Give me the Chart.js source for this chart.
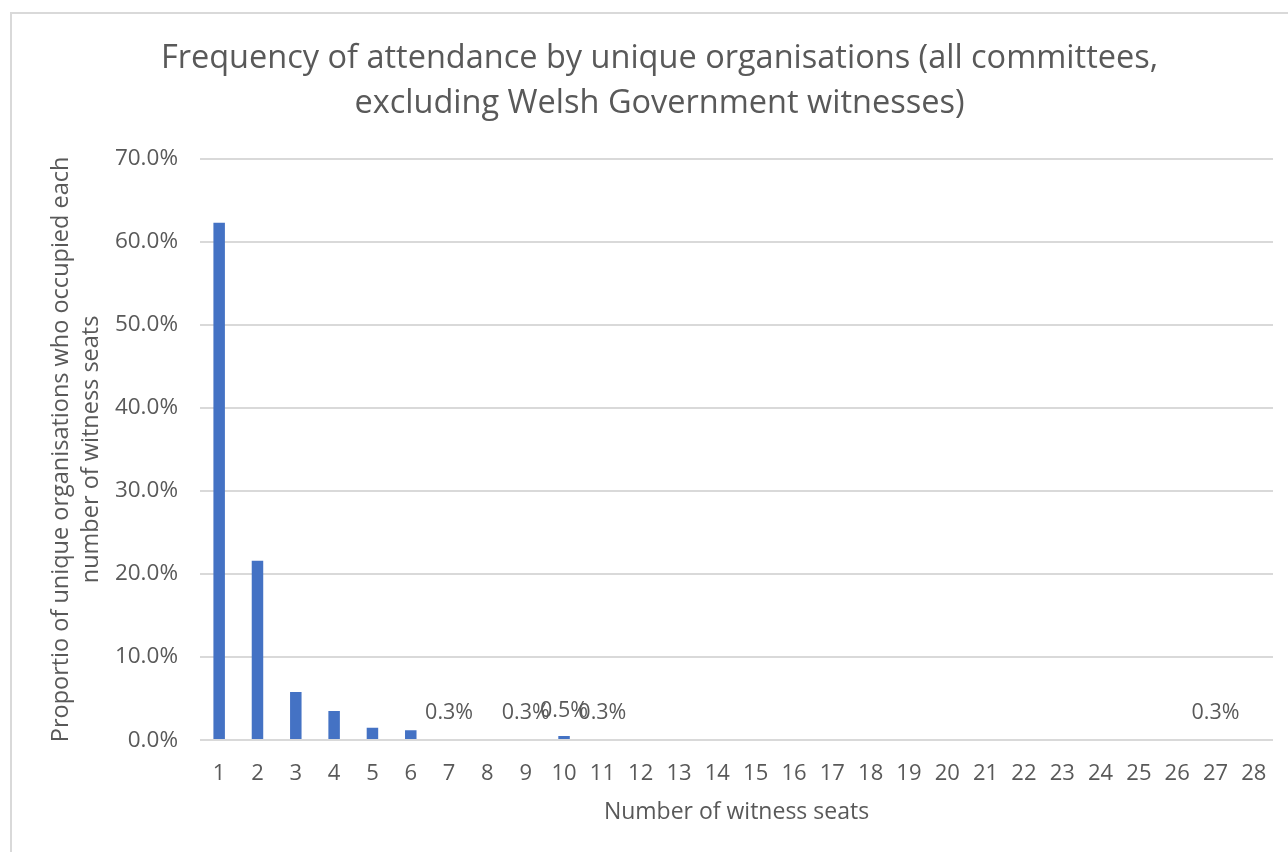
<!DOCTYPE html>
<html>
<head>
<meta charset="utf-8">
<script src="https://cdn.jsdelivr.net/npm/chart.js@4/dist/chart.umd.min.js"></script>
<style>
  html, body { margin: 0; padding: 0; background: #fff; }
  #frame { position: absolute; left: 10px; top: 12px; width: 1290px; height: 850px; border: 2px solid #d9d9d9; box-sizing: border-box; }
  #wrap { position: absolute; left: 0; top: 0; width: 1288px; height: 852px; }
</style>
</head>
<body>
<div id="frame"></div>
<div id="wrap"><canvas id="c" width="1288" height="852"></canvas></div>
<script>
const categories = ['1','2','3','4','5','6','7','8','9','10','11','12','13','14','15','16','17','18','19','20','21','22','23','24','25','26','27','28'];
const seriesValues = [62.3, 21.6, 5.8, 3.5, 1.5, 1.2, 0, 0, 0, 0.5, 0, 0, 0, 0, 0, 0, 0, 0, 0, 0, 0, 0, 0, 0, 0, 0, 0, 0];
const labelValues = [null, null, null, null, null, null, 0.3, null, 0.3, 0.5, 0.3, null, null, null, null, null, null, null, null, null, null, null, null, null, null, null, 0.3, null];
const yTicks = [0, 10, 20, 30, 40, 50, 60, 70];
const titleLines = ['Frequency of attendance by unique organisations (all committees,', 'excluding Welsh Government witnesses)'];
const yTitleLines = ['Proportio of unique organisations who occupied each', 'number of witness seats'];
const xTitle = 'Number of witness seats';

const FONT = '"Open Sans", sans-serif';
const GREY = '#595959';

const labelPlugin = {
  id: 'dataLabels',
  afterDatasetsDraw(chart) {
    const ctx = chart.ctx;
    const xs = chart.scales.x, ys = chart.scales.y;
    ctx.save();
    ctx.font = '21.5px ' + FONT;
    ctx.fillStyle = GREY;
    ctx.textAlign = 'center';
    ctx.textBaseline = 'middle';
    labelValues.forEach((v, i) => {
      if (v === null) return;
      const x = xs.getPixelForValue(i);
      const y = ys.getPixelForValue(v);
      ctx.fillText(v.toFixed(1) + '%', x, y - 25);
    });
    ctx.restore();
  }
};

new Chart(document.getElementById('c'), {
  type: 'bar',
  data: {
    labels: categories,
    datasets: [{
      data: seriesValues,
      backgroundColor: '#4472C4',
      borderWidth: 0,
      barPercentage: 0.6,
      categoryPercentage: 0.5
    }]
  },
  options: {
    responsive: false,
    animation: false,
    layout: { padding: { left: 46, right: 15, top: 0, bottom: 30 } },
    plugins: {
      legend: { display: false },
      tooltip: { enabled: false },
      title: {
        display: true,
        text: titleLines,
        color: GREY,
        font: { family: FONT, size: 32.5, weight: 'normal', lineHeight: 1.38 },
        padding: { top: 36, bottom: 33 }
      }
    },
    scales: {
      x: {
        grid: { display: false, drawTicks: false },
        border: { display: false },
        ticks: { color: GREY, font: { family: FONT, size: 22 }, maxRotation: 0, autoSkip: false, padding: 20 },
        title: { display: true, text: xTitle, color: GREY, font: { family: FONT, size: 23, lineHeight: 0.5 }, padding: { top: 0 } }
      },
      y: {
        min: 0, max: 70,
        afterBuildTicks(scale) { scale.ticks = yTicks.map(v => ({ value: v })); },
        afterFit(scale) { scale.width = 154; },
        grid: { color: '#d9d9d9', lineWidth: 2, drawTicks: false },
        border: { display: false },
        ticks: { color: GREY, font: { family: FONT, size: 22.5 }, padding: 22, callback: v => v.toFixed(1) + '%' },
        title: { display: true, text: yTitleLines, color: GREY, font: { family: FONT, size: 23.5, lineHeight: 1.28 }, padding: 0 }
      }
    }
  },
  plugins: [labelPlugin]
});
</script>
</body>
</html>
